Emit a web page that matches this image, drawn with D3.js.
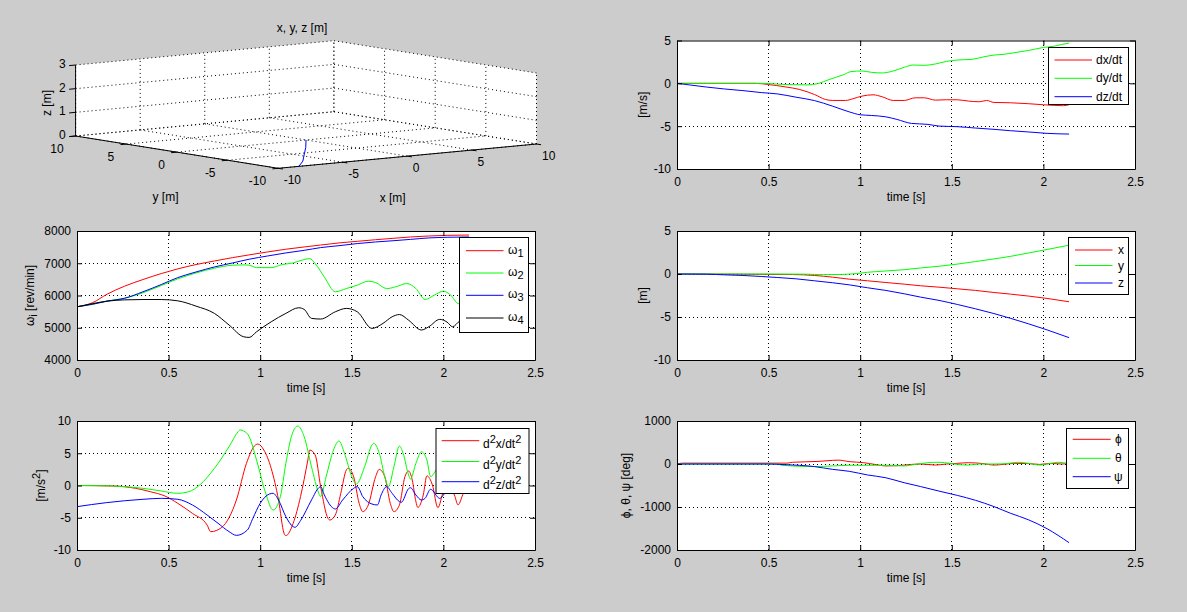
<!DOCTYPE html>
<html><head><meta charset="utf-8">
<script src="https://cdn.jsdelivr.net/npm/d3@7"></script>
<style>
body{margin:0;background:#cccccc;}
svg{display:block;}
text{font-family:"Liberation Sans",Arial,Helvetica,sans-serif;font-size:12px;fill:#000;}
</style></head><body>
<svg id="fig" width="1187" height="612"></svg>
<script>
// ---------------- DATA ----------------
const tTicks = [0, 0.5, 1, 1.5, 2, 2.5];
const velTicks = [-10, -5, 0, 5];
const omegaTicks = [4000, 5000, 6000, 7000, 8000];
const posTicks = [-10, -5, 0, 5];
const accTicks = [-10, -5, 0, 5, 10];
const angTicks = [-2000, -1000, 0, 1000];
const xTicks3 = [-10, -5, 0, 5, 10];
const yTicks3 = [-10, -5, 0, 5, 10];
const zTicks3 = [0, 1, 2, 3];

// 3D trajectory (visible part)
const traj3X = [0, -2.3, -4.7, -6.6, -8.4];
const traj3Y = [0, -2.9, -5.8, -8.1, -10];
const traj3Z = [0, 0, 0, 0, 0];

// velocities [m/s]
const velDxT = [0,0.43,0.5,0.59,0.67,0.75,0.81,0.85,0.92,0.96,1.01,1.07,1.12,1.18,1.24,1.30,1.35,1.41,1.47,1.53,1.59,1.65,1.69,1.73,1.82,1.92,2.0,2.06,2.11,2.14];
const velDxV = [0,0,-0.14,-0.41,-0.72,-1.30,-1.88,-2.0,-2.0,-1.80,-1.49,-1.34,-1.57,-2.0,-2.0,-1.69,-1.69,-1.96,-1.92,-1.92,-2.07,-2.15,-2.0,-2.23,-2.27,-2.38,-2.5,-2.58,-2.61,-2.5];
const velDyT = [0,0.45,0.5,0.59,0.71,0.77,0.83,0.91,0.95,1.01,1.06,1.12,1.18,1.24,1.29,1.35,1.41,1.47,1.53,1.61,1.67,1.73,1.78,1.84,1.92,2.0,2.06,2.10,2.14];
const velDyV = [0,0,-0.03,-0.14,-0.18,-0.03,0.44,1.02,1.37,1.44,1.29,1.21,1.44,1.87,2.14,2.10,2.26,2.56,2.72,2.80,3.07,3.30,3.38,3.57,3.84,4.19,4.34,4.54,4.69];
const velDzT = [0,0.07,0.16,0.26,0.36,0.46,0.55,0.65,0.75,0.85,0.94,1.0,1.06,1.14,1.2,1.28,1.37,1.43,1.53,1.63,1.73,1.82,1.92,2.02,2.14];
const velDzV = [0,-0.19,-0.43,-0.66,-0.85,-1.08,-1.24,-1.62,-2.01,-2.67,-3.33,-3.67,-3.75,-3.91,-4.21,-4.68,-4.79,-4.99,-5.06,-5.22,-5.37,-5.53,-5.68,-5.84,-5.92];
const velLabels = [[["dx/dt"]], [["dy/dt"]], [["dz/dt"]]];

// rotor speeds [rev/min]
const omegaT = [0,0.086,0.164,0.26,0.36,0.46,0.55,0.65,0.75,0.85,0.94,1.04,1.14,1.24,1.33,1.43,1.53,1.63,1.73,1.82,1.92,2.02,2.14];
const omega1 = [5650,5780,6040,6290,6495,6680,6825,6960,7070,7175,7260,7350,7435,7505,7565,7630,7680,7730,7775,7815,7845,7865,7875];
const omega3 = [5650,5730,5825,5915,6115,6340,6555,6730,6885,7010,7125,7225,7320,7400,7485,7545,7610,7660,7700,7740,7785,7805,7815];
const omega2T = [0,0.086,0.164,0.26,0.36,0.46,0.55,0.65,0.75,0.85,0.91,0.94,0.98,1.06,1.12,1.18,1.24,1.27,1.30,1.35,1.41,1.47,1.53,1.59,1.63,1.69,1.74,1.80,1.85,1.90,1.95,2.0,2.04,2.08,2.14];
const omega2 = [5650,5730,5825,5915,6085,6310,6515,6700,6845,6940,6950,6940,6865,6865,6960,7010,7115,7145,6990,6575,6115,6215,6320,6445,6400,6215,6270,6370,6215,5875,6010,6135,6010,5750,5700];
const omega4T = [0,0.086,0.164,0.26,0.36,0.46,0.55,0.65,0.75,0.83,0.91,0.94,0.98,1.06,1.14,1.21,1.24,1.28,1.33,1.41,1.47,1.53,1.61,1.67,1.72,1.76,1.81,1.88,1.92,1.98,2.02,2.05,2.09,2.14];
const omega4 = [5650,5750,5825,5865,5875,5875,5835,5670,5445,5085,4720,4700,4875,5185,5445,5620,5570,5290,5270,5495,5600,5495,4980,5135,5340,5410,5235,4930,5030,5260,5175,5030,5205,5250];
const omegaLabels = [[["ω"],["1","sub"]], [["ω"],["2","sub"]], [["ω"],["3","sub"]], [["ω"],["4","sub"]]];

// positions [m]
const posXT = [0,0.63,0.75,0.85,0.94,1.04,1.14,1.24,1.33,1.43,1.53,1.63,1.73,1.82,1.92,2.02,2.14];
const posXV = [0,-0.06,-0.17,-0.37,-0.6,-0.79,-0.99,-1.18,-1.37,-1.53,-1.72,-1.91,-2.15,-2.34,-2.57,-2.84,-3.23];
const posYT = [0,0.5,0.7,0.8,0.9,0.98,1.04,1.14,1.24,1.33,1.43,1.53,1.63,1.73,1.82,1.92,2.02,2.14];
const posYV = [0,0,-0.02,-0.08,-0.05,0.05,0.2,0.35,0.5,0.7,0.9,1.15,1.45,1.75,2.05,2.45,2.85,3.35];
const posZT = [0,0.16,0.26,0.36,0.46,0.55,0.65,0.75,0.85,0.94,1.04,1.14,1.24,1.33,1.43,1.53,1.63,1.73,1.82,1.92,2.02,2.14];
const posZV = [0,-0.02,-0.1,-0.17,-0.29,-0.41,-0.56,-0.79,-1.02,-1.26,-1.6,-1.91,-2.3,-2.69,-3.07,-3.54,-4.05,-4.6,-5.15,-5.8,-6.5,-7.4];
const posLabels = [[["x"]], [["y"]], [["z"]]];

// accelerations [m/s^2]
const accXT = [0,0.2,0.32,0.40,0.48,0.55,0.63,0.71,0.73,0.79,0.87,0.925,0.974,0.987,1.02,1.06,1.10,1.13,1.14,1.18,1.22,1.26,1.27,1.30,1.33,1.37,1.38,1.41,1.44,1.47,1.48,1.51,1.54,1.56,1.59,1.63,1.65,1.68,1.71,1.73,1.76,1.79,1.81,1.83,1.85,1.86,1.89,1.91,1.94,1.97,2.0,2.03,2.06,2.08,2.11,2.14];
const accXV = [0,-0.08,-0.44,-0.96,-1.63,-2.76,-4.32,-6.12,-7.16,-6.5,-2.25,3.44,6.28,6.43,5.5,2.66,-2.25,-7.4,-7.78,-5.86,-1.73,3.95,5.5,4.73,-0.18,-5.09,-5.35,-4.57,-1.21,2.4,2.66,1.37,-2.76,-4.06,-3.02,1.37,2.5,1.37,-2.76,-4.06,-3.0,1.37,2.25,0.85,-2.5,-3.4,-1.47,1.5,0.08,-3.44,-0.96,-0.2,-1.47,-3.0,-1.2,-0.4];
const accYT = [0,0.2,0.36,0.46,0.55,0.61,0.67,0.75,0.83,0.88,0.89,0.91,0.94,0.98,1.03,1.07,1.11,1.14,1.17,1.205,1.24,1.28,1.32,1.33,1.36,1.40,1.43,1.46,1.5,1.525,1.57,1.61,1.62,1.65,1.68,1.70,1.73,1.76,1.78,1.81,1.82,1.85,1.88,1.91,1.93,1.96,2.0,2.04,2.06,2.1,2.14];
const accYV = [0,-0.08,-0.44,-0.85,-1.21,-0.96,0.08,2.66,6.02,8.35,8.61,8.45,7.57,3.95,-1.21,-3.8,-1.73,3.43,7.57,9.22,7.57,2.92,-1.21,-1.73,1.37,5.5,6.9,5.0,1.37,0.23,2.92,6.28,6.54,5.0,1.37,-0.18,2.92,6.12,5.0,1.63,1.01,3.43,5.24,3.95,1.37,2.4,4.47,1.37,0.75,3.18,3.95];
const accZT = [0,0.16,0.36,0.46,0.55,0.63,0.71,0.77,0.83,0.87,0.93,0.96,1.0,1.05,1.07,1.10,1.14,1.18,1.19,1.22,1.28,1.32,1.33,1.35,1.40,1.41,1.45,1.51,1.53,1.56,1.61,1.64,1.66,1.69,1.72,1.76,1.77,1.81,1.82,1.85,1.88,1.90,1.93,1.98,2.02,2.06,2.1,2.14];
const accZV = [-3.28,-2.66,-2.14,-1.99,-2.14,-3.02,-4.57,-5.86,-7.15,-7.73,-6.9,-5.09,-2.76,-1.32,-1.21,-2.25,-4.83,-6.38,-6.48,-5.45,-2.25,-0.34,-0.18,-1.47,-3.54,-3.64,-2.25,-0.44,-0.18,-1.73,-2.87,-3.02,-1.47,-0.18,-1.21,-2.5,-2.61,-0.49,-0.34,-1.47,-2.25,-1.99,-0.59,-1.99,-0.96,-1.21,-0.7,-0.96];
const accLabels = [[["d"],["2","sup"],["x/dt"],["2","sup"]], [["d"],["2","sup"],["y/dt"],["2","sup"]], [["d"],["2","sup"],["z/dt"],["2","sup"]]];

// Euler angles [deg]
const angPhiT = [0,0.03,0.6,0.63,0.77,0.85,0.88,0.94,1.02,1.08,1.14,1.2,1.28,1.33,1.41,1.47,1.53,1.59,1.67,1.73,1.78,1.84,1.92,1.98,2.04,2.10,2.14];
const angPhiV = [0,20,20,40,60,85,90,55,30,-10,-45,-40,-10,0,-25,0,15,30,10,-25,-10,15,10,-10,15,0,15];
const angThetaT = [0,0.55,0.57,0.75,0.85,0.94,1.14,1.24,1.30,1.37,1.43,1.49,1.53,1.59,1.65,1.73,1.80,1.86,1.92,1.98,2.04,2.08,2.14];
const angThetaV = [0,0,-30,-60,-45,-30,-30,-45,-10,30,40,15,-10,-25,0,0,10,40,15,-25,15,40,10];
const angPsiT = [0,0.5,0.59,0.75,0.85,0.94,1.04,1.14,1.24,1.33,1.43,1.53,1.63,1.73,1.82,1.92,2.02,2.14];
const angPsiV = [0,0,-15,-60,-125,-170,-255,-320,-435,-525,-630,-730,-845,-990,-1145,-1300,-1505,-1830];
const angLabels = [[["ϕ"]], [["θ"]], [["ψ"]]];

// ---------------- DRAWING ----------------
const RED = "#ff0000", GREEN = "#00ff00", BLUE = "#0000ff", BLACK = "#000000";
const svg = d3.select("#fig");
svg.append("rect").attr("width", 1187).attr("height", 612).attr("fill", "#cccccc");

function rich(t, segs) {
  let shift = 0;
  segs.forEach(([s, kind]) => {
    const target = kind === "sup" ? -5 : kind === "sub" ? 3 : 0;
    const ts = t.append("tspan").text(s);
    if (target - shift !== 0) ts.attr("dy", target - shift);
    if (kind) ts.style("font-size", "11px");
    shift = target;
  });
}

function drawPanel(p) {
  const x = d3.scaleLinear().domain([0, 2.5]).range([p.l, p.r]);
  const y = d3.scaleLinear().domain([p.ticks[0], p.ticks[p.ticks.length - 1]]).range([p.b, p.t]);
  const g = svg.append("g");
  g.append("rect").attr("x", p.l).attr("y", p.t).attr("width", p.r - p.l).attr("height", p.b - p.t).attr("fill", "#fff");
  const grid = g.append("g").attr("stroke", "#000").attr("stroke-dasharray", "1,3").attr("shape-rendering", "crispEdges");
  tTicks.slice(1, -1).forEach(v => grid.append("line").attr("x1", x(v)).attr("x2", x(v)).attr("y1", p.t).attr("y2", p.b));
  p.ticks.slice(1, -1).forEach(v => grid.append("line").attr("x1", p.l).attr("x2", p.r).attr("y1", y(v)).attr("y2", y(v)));
  const line = d3.line().x(d => x(d[0])).y(d => y(d[1])).curve(d3.curveMonotoneX);
  p.series.forEach(s => g.append("path").datum(d3.zip(s.t, s.v)).attr("d", line)
    .attr("fill", "none").attr("stroke", s.c).attr("stroke-width", 1));
  const fmt = d => String(d);
  g.append("g").attr("transform", `translate(0,${p.b})`)
    .call(d3.axisBottom(x).tickValues(tTicks).tickFormat(fmt).tickSizeInner(-5).tickSizeOuter(0).tickPadding(8));
  g.append("g").attr("transform", `translate(0,${p.t})`)
    .call(d3.axisTop(x).tickValues(tTicks).tickFormat(() => "").tickSizeInner(-5).tickSizeOuter(0));
  g.append("g").attr("transform", `translate(${p.l},0)`)
    .call(d3.axisLeft(y).tickValues(p.ticks).tickFormat(fmt).tickSizeInner(-5).tickSizeOuter(0).tickPadding(6));
  g.append("g").attr("transform", `translate(${p.r},0)`)
    .call(d3.axisRight(y).tickValues(p.ticks).tickFormat(() => "").tickSizeInner(-5).tickSizeOuter(0));
  g.append("text").attr("x", (p.l + p.r) / 2).attr("y", p.b + 32).attr("text-anchor", "middle").text("time [s]");
  const yl = g.append("text").attr("text-anchor", "middle")
    .attr("transform", `translate(${p.l - p.ylOff},${(p.t + p.b) / 2}) rotate(-90)`);
  rich(yl, p.ylabel);
  // legend
  const L = p.legend;
  const lg = svg.append("g");
  lg.append("rect").attr("x", L.x + 0.5).attr("y", L.y + 0.5).attr("width", L.w).attr("height", L.h)
    .attr("fill", "#fff").attr("stroke", "#000");
  p.series.forEach((s, i) => {
    const yy = L.rows[i];
    lg.append("line").attr("x1", L.lx1).attr("x2", L.lx2).attr("y1", yy).attr("y2", yy).attr("stroke", s.c);
    const t = lg.append("text").attr("x", L.tx).attr("y", yy + L.base).attr("text-anchor", L.anchor || "start");
    rich(t, s.label);
  });
}

drawPanel({ l: 677, r: 1135, t: 40.5, b: 169, ticks: velTicks, ylOff: 30, ylabel: [["[m/s]"]],
  series: [{ t: velDxT, v: velDxV, c: RED, label: velLabels[0] }, { t: velDyT, v: velDyV, c: GREEN, label: velLabels[1] }, { t: velDzT, v: velDzV, c: BLUE, label: velLabels[2] }],
  legend: { x: 1048, y: 47, w: 80, h: 57, rows: [60, 78.3, 96.7], lx1: 1054.5, lx2: 1092, tx: 1096, base: 4 } });

drawPanel({ l: 77, r: 535, t: 231, b: 360, ticks: omegaTicks, ylOff: 43, ylabel: [["ω"], ["i", "sub"], [" [rev/min]"]],
  series: [{ t: omegaT, v: omega1, c: RED, label: omegaLabels[0] }, { t: omega2T, v: omega2, c: GREEN, label: omegaLabels[1] },
           { t: omegaT, v: omega3, c: BLUE, label: omegaLabels[2] }, { t: omega4T, v: omega4, c: BLACK, label: omegaLabels[3] }],
  legend: { x: 459, y: 237, w: 69, h: 95, rows: [250.7, 273, 295.3, 318], lx1: 466, lx2: 503.5, tx: 508, base: 3 } });

drawPanel({ l: 677, r: 1135, t: 231, b: 360, ticks: posTicks, ylOff: 30, ylabel: [["[m]"]],
  series: [{ t: posXT, v: posXV, c: RED, label: posLabels[0] }, { t: posYT, v: posYV, c: GREEN, label: posLabels[1] }, { t: posZT, v: posZV, c: BLUE, label: posLabels[2] }],
  legend: { x: 1068, y: 237, w: 60, h: 57, rows: [250, 265.5, 283], lx1: 1075, lx2: 1112.5, tx: 1118, base: 4 } });

drawPanel({ l: 77, r: 535, t: 421, b: 550, ticks: accTicks, ylOff: 32, ylabel: [["[m/s"], ["2", "sup"], ["]"]],
  series: [{ t: accXT, v: accXV, c: RED, label: accLabels[0] }, { t: accYT, v: accYV, c: GREEN, label: accLabels[1] }, { t: accZT, v: accZV, c: BLUE, label: accLabels[2] }],
  legend: { x: 435.5, y: 428, w: 93, h: 65, rows: [440.7, 461.5, 481.7], lx1: 441.7, lx2: 479.3, tx: 483, base: 7 } });

drawPanel({ l: 677, r: 1135, t: 421, b: 550, ticks: angTicks, ylOff: 47, ylabel: [["ϕ, θ, ψ [deg]"]],
  series: [{ t: angPhiT, v: angPhiV, c: RED, label: angLabels[0] }, { t: angThetaT, v: angThetaV, c: GREEN, label: angLabels[1] }, { t: angPsiT, v: angPsiV, c: BLUE, label: angLabels[2] }],
  legend: { x: 1066, y: 428, w: 62, h: 60, rows: [439.3, 458.3, 476.7], lx1: 1072.7, lx2: 1110.7, tx: 1118.3, base: 4, anchor: "middle" } });

// ---------------- 3D PANEL ----------------
(function () {
  const F = [278.2, 168.3], R = [536.5, 144], Lc = [75.6, 136];
  const s3x = d3.scaleLinear().domain([-10, 10]).range([0, 1]);
  const s3y = d3.scaleLinear().domain([-10, 10]).range([0, 1]);
  const s3z = d3.scaleLinear().domain([0, 3]).range([0, 71]);
  const proj = (x, y, z) => {
    const a = s3x(x), b = s3y(y);
    return [F[0] + a * (R[0] - F[0]) + b * (Lc[0] - F[0]), F[1] + a * (R[1] - F[1]) + b * (Lc[1] - F[1]) - s3z(z)];
  };
  const g = svg.append("g");
  const hex = [proj(-10, 10, 3), proj(10, 10, 3), proj(10, -10, 3), proj(10, -10, 0), proj(-10, -10, 0), proj(-10, 10, 0)];
  g.append("polygon").attr("points", hex.map(p => p.join(",")).join(" ")).attr("fill", "#fff");
  const grid = g.append("g").attr("stroke", "#000").attr("stroke-dasharray", "1,3").attr("fill", "none");
  const seg = (sel, a, b) => sel.append("line").attr("x1", a[0]).attr("y1", a[1]).attr("x2", b[0]).attr("y2", b[1]);
  // floor
  xTicks3.forEach(v => seg(grid, proj(v, -10, 0), proj(v, 10, 0)));
  yTicks3.forEach(v => seg(grid, proj(-10, v, 0), proj(10, v, 0)));
  // wall y = 10
  xTicks3.forEach(v => seg(grid, proj(v, 10, 0), proj(v, 10, 3)));
  zTicks3.forEach(v => seg(grid, proj(-10, 10, v), proj(10, 10, v)));
  // wall x = 10
  yTicks3.forEach(v => seg(grid, proj(10, v, 0), proj(10, v, 3)));
  zTicks3.forEach(v => seg(grid, proj(10, -10, v), proj(10, 10, v)));
  // axes
  const ax = g.append("g").attr("stroke", "#000").attr("stroke-width", 1);
  seg(ax, proj(-10, 10, 0), proj(-10, 10, 3));
  seg(ax, proj(-10, 10, 0), proj(-10, -10, 0));
  seg(ax, proj(-10, -10, 0), proj(10, -10, 0));
  zTicks3.forEach(v => seg(ax, proj(-10, 10, v), proj(-10.5, 10, v)));
  xTicks3.forEach(v => seg(ax, proj(v, -10, 0), proj(v, -10.45, 0)));
  yTicks3.forEach(v => seg(ax, proj(-10, v, 0), proj(-10.45, v, 0)));
  // trajectory
  g.append("path").datum(d3.zip(traj3X, traj3Y, traj3Z)).attr("d", d3.line().x(d => proj(...d)[0]).y(d => proj(...d)[1]))
    .attr("fill", "none").attr("stroke", BLUE).attr("stroke-width", 1);
  // tick labels
  zTicks3.forEach(v => { const p = proj(-10, 10, v); g.append("text").attr("x", p[0] - 10).attr("y", p[1] + 3).attr("text-anchor", "end").text(String(v)); });
  yTicks3.forEach(v => { const p = proj(-10, v, 0); g.append("text").attr("x", p[0] - 12).attr("y", p[1] + 16.5).attr("text-anchor", "end").text(String(v)); });
  xTicks3.forEach(v => { const p = proj(v, -10, 0); g.append("text").attr("x", p[0] + 5.5).attr("y", p[1] + 15.5).attr("text-anchor", "start").text(String(v)); });
  g.append("text").attr("x", 302).attr("y", 32).attr("text-anchor", "middle").text("x, y, z [m]");
  g.append("text").attr("x", 165.5).attr("y", 201).attr("text-anchor", "middle").text("y [m]");
  g.append("text").attr("x", 392.7).attr("y", 202).attr("text-anchor", "middle").text("x [m]");
  g.append("text").attr("text-anchor", "middle").attr("transform", "translate(50.5,103) rotate(-90)").text("z [m]");
})();
</script>
</body></html>
